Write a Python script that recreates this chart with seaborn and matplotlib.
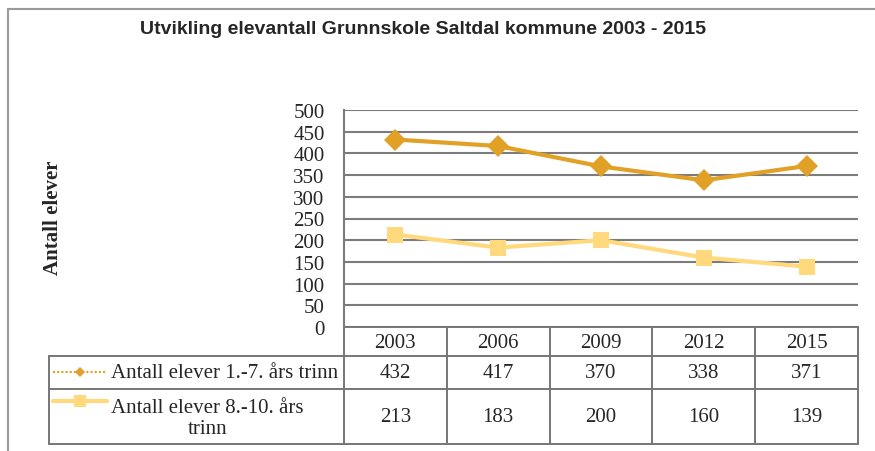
import matplotlib
matplotlib.use("Agg")
import matplotlib.pyplot as plt
from matplotlib.lines import Line2D
from matplotlib import font_manager
import seaborn as sns
import pandas as pd

# ---- data ----
years = ["2003", "2006", "2009", "2012", "2015"]
series_names = ["Antall elever 1.-7. års trinn", "Antall elever 8.-10. års\ntrinn"]
grade_1_7 = [432, 417, 370, 338, 371]
grade_8_10 = [213, 183, 200, 160, 139]
y_ticks = [0, 50, 100, 150, 200, 250, 300, 350, 400, 450, 500]
title = "Utvikling elevantall Grunnskole Saltdal kommune 2003 - 2015"
y_label = "Antall elever"

colors = ["#E1A126", "#FFD97C"]
markers = ["D", "s"]
marker_sizes = [11, 12]

sns.set_style("white")
plt.rcParams["font.family"] = ["Liberation Serif", "DejaVu Serif"]

# title font: narrow sans if present
try:
    font_manager.findfont("Liberation Sans Narrow", fallback_to_default=False)
    title_font = dict(family="Liberation Sans Narrow", size=16.5)
except Exception:
    title_font = dict(family="Liberation Sans", size=14)

W, H = 875, 452
fig = plt.figure(figsize=(W / 100, H / 100), dpi=100)
fig.patch.set_facecolor("white")

def fx(px):
    return px / W

def fy(py):
    return 1 - py / H

ax_left, ax_right, ax_top, ax_bot = 344, 858, 111, 328
ax = fig.add_axes([fx(ax_left), fy(ax_bot), fx(ax_right - ax_left), (ax_bot - ax_top) / H])

df1 = pd.DataFrame({"year": years, "value": grade_1_7})
df2 = pd.DataFrame({"year": years, "value": grade_8_10})
for df, c, m, ms in [(df1, colors[0], markers[0], marker_sizes[0]),
                     (df2, colors[1], markers[1], marker_sizes[1])]:
    sns.lineplot(data=df, x="year", y="value", ax=ax, color=c, marker=m,
                 markersize=ms, markeredgewidth=0, linewidth=3, legend=False,
                 zorder=3)

ax.set_xlim(-0.5, 4.5)
ax.set_ylim(0, 500)
ax.set_yticks(y_ticks)
ax.set_yticklabels([str(v) for v in y_ticks], fontsize=15)
ax.tick_params(axis="y", length=0, pad=14)
ax.set_xticks([])
ax.set_xlabel("")
ax.set_ylabel("")
grid_col = "#7c7c7c"
ax.yaxis.grid(True, color=grid_col, linewidth=1.5)
ax.set_axisbelow(True)
for s in ["top", "right", "bottom"]:
    ax.spines[s].set_visible(False)
ax.spines["left"].set_color(grid_col)
ax.spines["left"].set_linewidth(1.5)

# y label
fig.text(fx(53), fy(218), y_label, rotation=90, ha="center", va="center",
         fontsize=15, fontweight="bold")

# title
fig.text(fx(423), fy(30), title, ha="center", va="center",
         fontweight="bold", **title_font)

# ---- data table ----
def ay(py):
    return (ax_bot - py) / (ax_bot - ax_top)

def axx(px):
    return (px - ax_left) / (ax_right - ax_left)

tcol = "#767676"
tlw = 1.4
xt = ax.get_xaxis_transform()
t_hdr, t_r1, t_r2 = ay(357), ay(390), ay(445)
bottom_y = t_r2
# vertical column borders
for i in range(len(years) + 1):
    ax.add_line(Line2D([i - 0.5, i - 0.5], [0, bottom_y], transform=xt,
                       color=tcol, lw=tlw, clip_on=False))
# horizontal borders
ax.add_line(Line2D([axx(ax_left), 1], [0, 0], transform=ax.transAxes,
                   color=tcol, lw=tlw, clip_on=False))
for yy in [t_hdr, t_r1, t_r2]:
    ax.add_line(Line2D([axx(49), 1], [yy, yy], transform=ax.transAxes,
                       color=tcol, lw=tlw, clip_on=False))
ax.add_line(Line2D([axx(49), axx(49)], [t_hdr, t_r2], transform=ax.transAxes,
                   color=tcol, lw=tlw, clip_on=False))

# header and values
for i, yr in enumerate(years):
    ax.text(i, ay(343), yr, transform=xt, ha="center", va="center", fontsize=15)
    ax.text(i, ay(373), str(grade_1_7[i]), transform=xt, ha="center",
            va="center", fontsize=15)
    ax.text(i, ay(418), str(grade_8_10[i]), transform=xt, ha="center",
            va="center", fontsize=15)

# row labels with legend keys
ax.text(axx(111), ay(373), series_names[0], transform=ax.transAxes,
        ha="left", va="center", fontsize=15)
ax.text(axx(111), ay(419), series_names[1], transform=ax.transAxes,
        ha="left", va="center", fontsize=15, multialignment="center",
        linespacing=1.15)

ax.add_line(Line2D([axx(53), axx(107)], [ay(373), ay(373)], transform=ax.transAxes,
                   color=colors[0], lw=1.5, ls=(0, (1, 1)), clip_on=False))
ax.add_line(Line2D([axx(80)], [ay(373)], transform=ax.transAxes, color=colors[0],
                   marker="D", markersize=5, markeredgewidth=0, clip_on=False))
ax.add_line(Line2D([axx(53), axx(107)], [ay(402), ay(402)], transform=ax.transAxes,
                   color=colors[1], lw=3, clip_on=False))
ax.add_line(Line2D([axx(80)], [ay(402)], transform=ax.transAxes, color=colors[1],
                   marker="s", markersize=8, markeredgewidth=0, clip_on=False))

# outer chart frame
border = "#9a9a9a"
fig.add_artist(Line2D([fx(8), fx(8)], [fy(10), fy(452)], transform=fig.transFigure,
                      color=border, lw=1.5))
fig.add_artist(Line2D([fx(8), fx(875)], [fy(10), fy(10)], transform=fig.transFigure,
                      color=border, lw=1.5))

fig.savefig("out.png", dpi=100, facecolor="white")
